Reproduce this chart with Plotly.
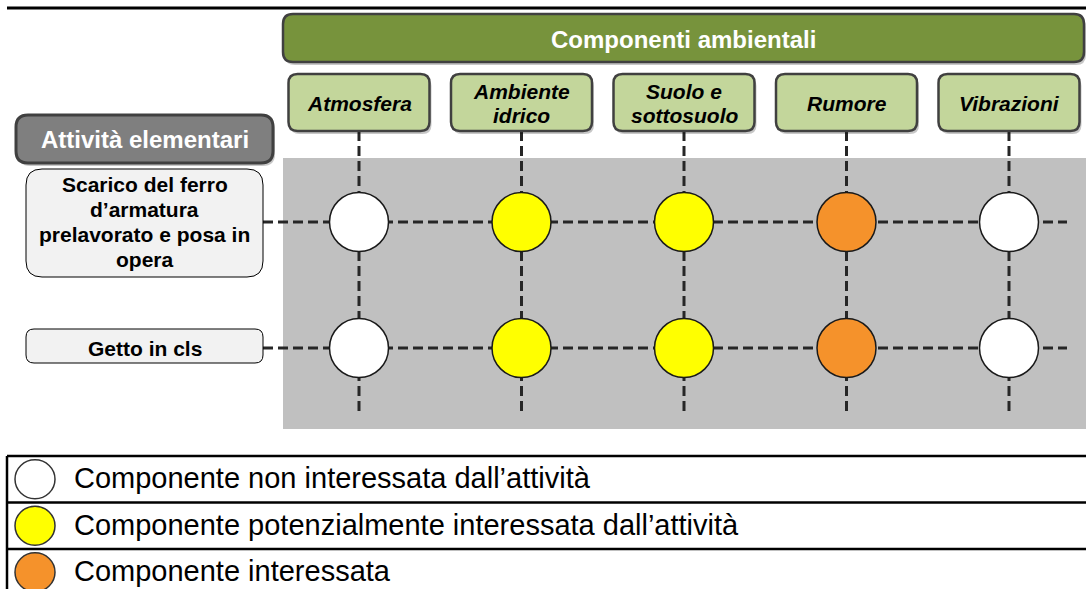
import plotly.graph_objects as go

# ---------------- data ----------------
columns = ["Atmosfera", "Ambiente idrico", "Suolo e sottosuolo", "Rumore", "Vibrazioni"]
column_labels = ["Atmosfera", "Ambiente<br>idrico", "Suolo e<br>sottosuolo", "Rumore", "Vibrazioni"]
activities = ["Scarico del ferro d’armatura prelavorato e posa in opera", "Getto in cls"]
activity_labels = ["Scarico del ferro<br>d’armatura<br>prelavorato e posa in<br>opera", "Getto in cls"]
impact_scarico = [0, 1, 1, 2, 0]
impact_getto = [0, 1, 1, 2, 0]
legend_labels = [
    "Componente non interessata dall’attività",
    "Componente potenzialmente interessata dall’attività",
    "Componente interessata",
]
title_top = "Componenti ambientali"
title_left = "Attività elementari"
level_colors = ["#ffffff", "#ffff00", "#f5922b"]

# ---------------- layout geometry ----------------
W, H = 1086, 589
COL_X0, COL_DX = 359, 162.5
ROW_Y0, ROW_DY = 222, 126
FONT = "Liberation Sans, Arial, sans-serif"


def cx(i):
    return COL_X0 + COL_DX * i


def cy(j):
    return ROW_Y0 + ROW_DY * j


def rr(x0, y0, x1, y1, r):
    return (f"M{x0+r},{y0} L{x1-r},{y0} Q{x1},{y0} {x1},{y0+r} L{x1},{y1-r} "
            f"Q{x1},{y1} {x1-r},{y1} L{x0+r},{y1} Q{x0},{y1} {x0},{y1-r} "
            f"L{x0},{y0+r} Q{x0},{y0} {x0+r},{y0} Z")


shapes = []
annotations = []


def box(x0, y0, x1, y1, r, fill, line, lw, shadow=True):
    if shadow:
        shapes.append(dict(type="path", xref="x2", yref="y2", path=rr(x0 + 2, y0 + 3, x1 + 2, y1 + 3, r),
                           fillcolor="rgba(0,0,0,0.22)", line=dict(width=0)))
    shapes.append(dict(type="path", xref="x2", yref="y2", path=rr(x0, y0, x1, y1, r),
                       fillcolor=fill, line=dict(color=line, width=lw)))


def multiline(text, spacing, **kw):
    lines = text.split("<br>")
    n = len(lines)
    for k, ln in enumerate(lines):
        annotations.append(dict(text=ln, yshift=-(k - (n - 1) / 2) * spacing, showarrow=False, **kw))


# grey panel (below traces)
shapes.append(dict(type="rect", xref="x2", yref="y2", x0=283, x1=W, y0=158, y1=429,
                   fillcolor="#c0c0c0", line=dict(width=0), layer="below"))
# dashed grid
for i in range(len(columns)):
    shapes.append(dict(type="line", xref="x2", yref="y2", x0=cx(i), x1=cx(i), y0=131, y1=411,
                       line=dict(color="#262626", width=3, dash="10px,5px"), layer="below"))
for j in range(len(activities)):
    shapes.append(dict(type="line", xref="x2", yref="y2", x0=263, x1=1067, y0=cy(j), y1=cy(j),
                       line=dict(color="#262626", width=3, dash="10px,5px"), layer="below"))

# top rule
shapes.append(dict(type="line", xref="x2", yref="y2", x0=7, x1=W, y0=8, y1=8,
                   line=dict(color="#000000", width=3)))

# top green header
box(283, 14, 1084, 62, 10, "#77933c", "#404040", 2.5)
annotations.append(dict(xref="x2", yref="y2", x=(283 + 1084) / 2, y=39, text=f"<b>{title_top}</b>",
                        showarrow=False, font=dict(family=FONT, size=24, color="#ffffff")))

# column headers
for i, lab in enumerate(column_labels):
    box(cx(i) - 70.5, 74, cx(i) + 70.5, 131, 9, "#c3d69b", "#404040", 2.5)
    multiline(f"<b><i>{lab.replace('<br>', '</i></b><br><b><i>')}</i></b>", 24,
              xref="x", yref="y2", x=columns[i], y=103,
              font=dict(family=FONT, size=21, color="#000000"))

# left header
box(16, 115, 273, 163, 12, "#7f7f7f", "#404040", 3)
annotations.append(dict(xref="x2", yref="y2", x=(16 + 273) / 2, y=139, text=f"<b>{title_left}</b>",
                        showarrow=False, font=dict(family=FONT, size=24, color="#ffffff")))

# activity boxes
act_boxes = [(169, 277, 16), (329, 363, 8)]
for j, lab in enumerate(activity_labels):
    y0, y1, r = act_boxes[j]
    box(26, y0, 263, y1, r, "#f2f2f2", "#000000", 1, shadow=False)
    multiline(f"<b>{lab.replace('<br>', '</b><br><b>')}</b>", 25,
              xref="x2", yref="y", x=(26 + 263) / 2, y=activities[j],
              font=dict(family=FONT, size=21, color="#000000"))

# legend table
LEG_TOP, LEG_DY = 456, 46.5
for k in range(len(legend_labels) + 1):
    yk = LEG_TOP + LEG_DY * k
    shapes.append(dict(type="line", xref="x2", yref="y2", x0=7, x1=W, y0=yk, y1=yk,
                       line=dict(color="#000000", width=2.5)))
shapes.append(dict(type="line", xref="x2", yref="y2", x0=7, x1=7, y0=LEG_TOP, y1=H,
                   line=dict(color="#000000", width=2.5)))
for k, lab in enumerate(legend_labels):
    yc = LEG_TOP + LEG_DY * (k + 0.5)
    shapes.append(dict(type="circle", xref="x2", yref="y2", x0=15, x1=55, y0=yc - 19.5, y1=yc + 19.5,
                       fillcolor=level_colors[k], line=dict(color="#333333", width=1.5)))
    annotations.append(dict(xref="x2", yref="y2", x=72, y=yc - 1, text=lab, xanchor="left",
                            showarrow=False, font=dict(family=FONT, size=29, color="#000000")))

# ---------------- traces ----------------
impacts = [impact_scarico, impact_getto]
xs, ys, cols = [], [], []
for j, row in enumerate(impacts):
    for i, v in enumerate(row):
        xs.append(columns[i])
        ys.append(activities[j])
        cols.append(level_colors[v])

fig = go.Figure()
fig.add_trace(go.Scatter(x=xs, y=ys, mode="markers", hoverinfo="skip",
                         marker=dict(size=59, color=cols, line=dict(color="#1a1a1a", width=1.5))))
fig.add_trace(go.Scatter(x=[0, W], y=[0, H], xaxis="x2", yaxis="y2", mode="markers",
                         marker=dict(opacity=0), hoverinfo="skip"))

fig.update_layout(
    width=W, height=H, margin=dict(l=0, r=0, t=0, b=0),
    paper_bgcolor="#ffffff", plot_bgcolor="rgba(0,0,0,0)", showlegend=False,
    xaxis=dict(type="category", categoryorder="array", categoryarray=columns,
               range=[(0 - COL_X0) / COL_DX, (W - COL_X0) / COL_DX], visible=False, fixedrange=True),
    yaxis=dict(type="category", categoryorder="array", categoryarray=activities,
               range=[(H - ROW_Y0) / ROW_DY, (0 - ROW_Y0) / ROW_DY], visible=False, fixedrange=True),
    xaxis2=dict(range=[0, W], overlaying="x", visible=False, fixedrange=True),
    yaxis2=dict(range=[H, 0], overlaying="y", visible=False, fixedrange=True),
    shapes=shapes, annotations=annotations,
)

fig.write_html("out.html", config={"displayModeBar": False},
               post_script="document.body.style.margin='0';document.body.style.overflow='hidden';")
